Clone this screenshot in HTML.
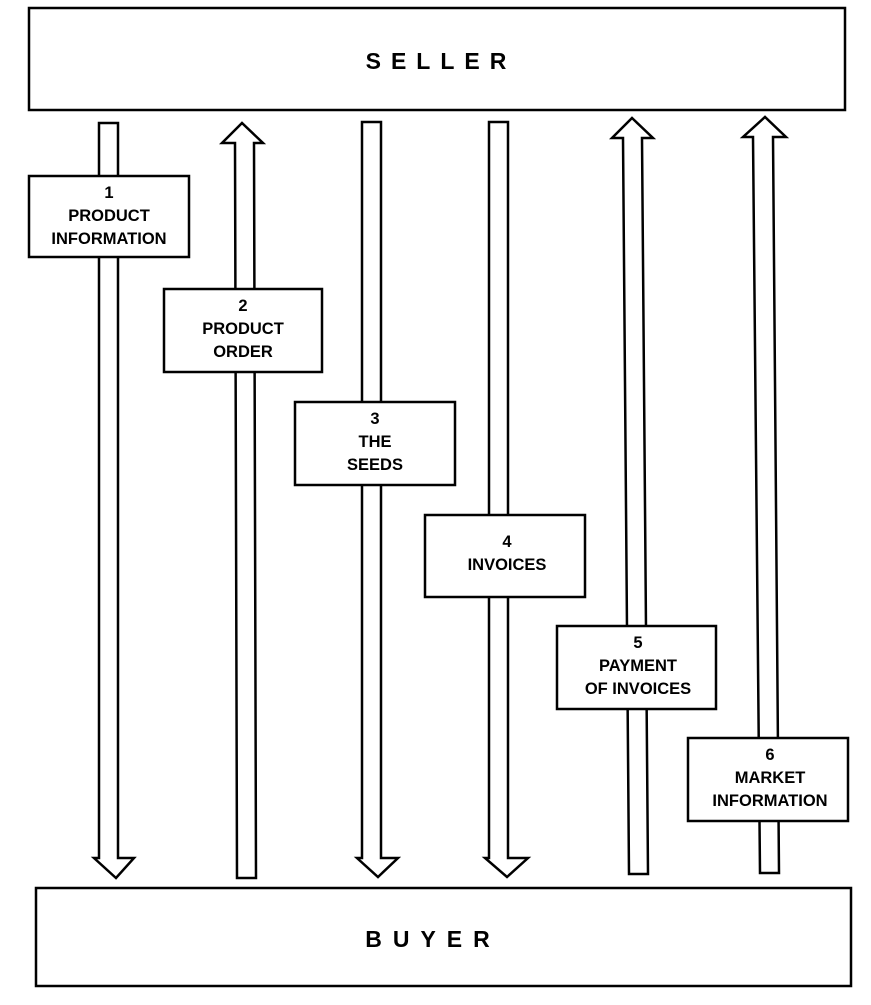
<!DOCTYPE html>
<html><head><style>body{margin:0;background:#fff}svg{display:block}</style></head>
<body>
<svg width="871" height="1005" viewBox="0 0 871 1005" xmlns="http://www.w3.org/2000/svg" font-family="Liberation Sans, sans-serif" font-weight="bold">
<g fill="#fff" stroke="#000" stroke-width="2.5">
<rect x="29" y="8" width="816" height="102"/>
<rect x="36" y="888" width="815" height="98"/>
<polygon points="99,123 118,123 118,858 134,858 116,878 94,858 99,858"/>
<polygon points="237,878 256,878 254,143 263,143 242,123 222,143 235,143"/>
<polygon points="362,122 381,122 381,858 398,858 378,877 357,858 362,858"/>
<polygon points="489,122 508,122 508,858 528,858 507,877 485,858 489,858"/>
<polygon points="629,874 648,874 642,138 653,138 632,118 612,138 623,138"/>
<polygon points="760,873 779,873 773,137 786,137 765,117 743,137 753,137"/>
<rect x="29" y="176" width="160" height="81"/>
<rect x="164" y="289" width="158" height="83"/>
<rect x="295" y="402" width="160" height="83"/>
<rect x="425" y="515" width="160" height="82"/>
<rect x="557" y="626" width="159" height="83"/>
<rect x="688" y="738" width="160" height="83"/>
</g>
<g font-size="16.5" text-anchor="middle" fill="#000">
<text x="441" y="69" font-size="23" letter-spacing="10">SELLER</text>
<text x="433" y="947" font-size="23" letter-spacing="11">BUYER</text>
<text x="109" y="198">1</text><text x="109" y="221">PRODUCT</text><text x="109" y="244">INFORMATION</text>
<text x="243" y="311">2</text><text x="243" y="334">PRODUCT</text><text x="243" y="357">ORDER</text>
<text x="375" y="424">3</text><text x="375" y="447">THE</text><text x="375" y="470">SEEDS</text>
<text x="507" y="547">4</text><text x="507" y="570">INVOICES</text>
<text x="638" y="648">5</text><text x="638" y="671">PAYMENT</text><text x="638" y="694">OF INVOICES</text>
<text x="770" y="760">6</text><text x="770" y="783">MARKET</text><text x="770" y="806">INFORMATION</text>
</g>
</svg>
</body></html>
